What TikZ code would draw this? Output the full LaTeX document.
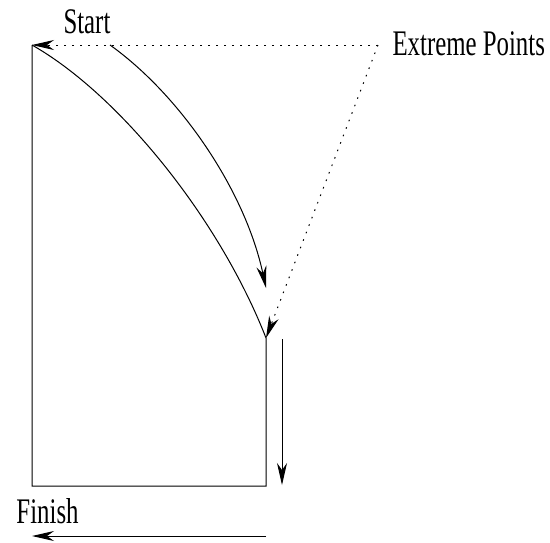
\documentclass[tikz,border=0pt]{standalone}
\usepackage{fontspec}
\setmainfont{Liberation Serif}[FakeStretch=0.69]
\usetikzlibrary{arrows.meta}

\begin{document}
\begin{tikzpicture}[
    x=0.5pt,
    y=-0.5pt,
    line width=0.5pt,
    font=\fontsize{18}{21}\selectfont,
    arrow/.style={-{Stealth[length=11pt,width=5pt,inset=3.5pt]}},
    guide/.style={arrow, dash pattern=on 0.8pt off 3.2pt},
    label/.style={anchor=base west, inner sep=0pt}
]
\useasboundingbox (0,0) rectangle (550,542);

% Corners of the region.
\coordinate (start) at (32,45);
\coordinate (lowleft) at (32,486);
\coordinate (lowright) at (266,486);
\coordinate (corner) at (266,338);
\coordinate (extreme) at (378,45);

% Outline with the curved upper edge.
\draw (start) -- (lowleft) -- (lowright) -- (corner)
    .. controls (220,220) and (120,95) .. (start);

% Sweep along the curve.
\coordinate (sweepfrom) at (110,45);
\coordinate (sweepto) at (266,288);
\draw[arrow] (sweepfrom) .. controls (180,95) and (245,190) .. (sweepto);

% Extreme points.
\draw[guide] (extreme) -- (start);
\draw[guide] (extreme) -- (corner);

% Down the right side, then back along the bottom.
\coordinate (downfrom) at (282,339);
\coordinate (downto) at (282,485);
\draw[arrow] (downfrom) -- (downto);
\coordinate (backfrom) at (266,536);
\coordinate (backto) at (32,536);
\draw[arrow] (backfrom) -- (backto);

% Labels.
\node[label] (starttext) at (63,33) {Start};
\node[label] (extremetext) at (392,55) {Extreme Points};
\node[label] (finishtext) at (16,523) {Finish};

\end{tikzpicture}
\end{document}
